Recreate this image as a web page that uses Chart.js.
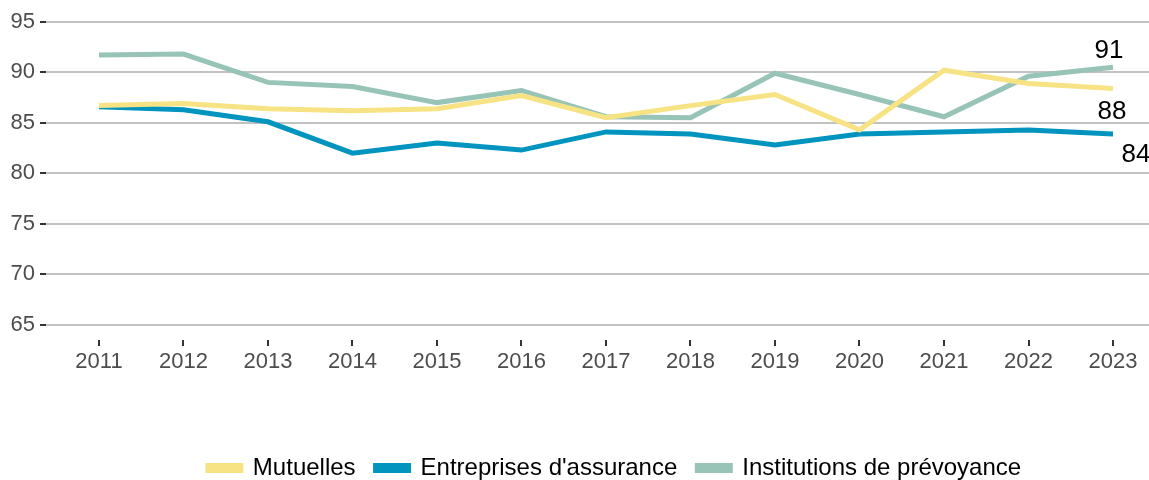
<!DOCTYPE html>
<html>
<head>
<meta charset="utf-8">
<script src="https://cdn.jsdelivr.net/npm/chart.js@4"></script>
<style>
  html, body { margin: 0; padding: 0; background: #fff; }
  #wrap { width: 1149px; height: 480px; }
</style>
</head>
<body>
<div id="wrap"><canvas id="chart-line"></canvas></div>
<script>
var years = [2011, 2012, 2013, 2014, 2015, 2016, 2017, 2018, 2019, 2020, 2021, 2022, 2023];
var mutuelles = [86.7, 86.9, 86.4, 86.2, 86.4, 87.7, 85.5, 86.7, 87.8, 84.3, 90.2, 88.9, 88.4];
var entreprises = [86.6, 86.3, 85.1, 82.0, 83.0, 82.3, 84.1, 83.9, 82.8, 83.9, 84.1, 84.3, 83.9];
var institutions = [91.7, 91.8, 89.0, 88.6, 87.0, 88.2, 85.6, 85.5, 89.9, 87.8, 85.6, 89.6, 90.5];
var yTicks = [65, 70, 75, 80, 85, 90, 95];
var seriesNames = ["Mutuelles", "Entreprises d'assurance", "Institutions de prévoyance"];

var FONT = '"Liberation Sans", Arial, sans-serif';

// where the end labels sit relative to the last point (px)
var endLabelOffsets = [[-1, 23], [23, 21], [-4, -16]];

function toPoints(values) {
  return values.map(function (v, i) { return { x: years[i], y: v }; });
}

var endLabels = {
  id: 'endLabels',
  afterLayout: function (chart) {
    // nudge the legend a bit to the right, like the original
    chart.legend.left += 40;
    chart.legend.right += 40;
  },
  afterDatasetsDraw: function (chart) {
    var ctx = chart.ctx;
    ctx.save();
    ctx.font = '26px ' + FONT;
    ctx.fillStyle = '#000';
    ctx.textAlign = 'center';
    ctx.textBaseline = 'middle';
    chart.data.datasets.forEach(function (ds, i) {
      var meta = chart.getDatasetMeta(i);
      var last = meta.data[meta.data.length - 1];
      var val = ds.data[ds.data.length - 1].y;
      var off = endLabelOffsets[i];
      ctx.fillText(String(Math.round(val)), last.x + off[0], last.y + off[1]);
    });
    ctx.restore();
  }
};

var ctx = document.getElementById("chart-line").getContext("2d");

new Chart(ctx, {
  type: "line",
  data: {
    datasets: [{
      label: seriesNames[0],
      data: toPoints(mutuelles),
      borderColor: "#F7E384",
      backgroundColor: "#F7E384",
      borderWidth: 5,
      pointRadius: 0,
      tension: 0
    }, {
      label: seriesNames[1],
      data: toPoints(entreprises),
      borderColor: "#0094BE",
      backgroundColor: "#0094BE",
      borderWidth: 5,
      pointRadius: 0,
      tension: 0
    }, {
      label: seriesNames[2],
      data: toPoints(institutions),
      borderColor: "#98C4B8",
      backgroundColor: "#98C4B8",
      borderWidth: 5,
      pointRadius: 0,
      tension: 0
    }]
  },
  options: {
    responsive: true,
    maintainAspectRatio: false,
    animation: false,
    layout: { padding: { left: 0, right: 0, top: 7, bottom: -10 } },
    plugins: {
      legend: {
        position: 'bottom',
        labels: {
          boxWidth: 33,
          boxHeight: 5,
          padding: 20,
          color: '#000',
          font: { size: 24, family: FONT }
        }
      },
      tooltip: { enabled: false }
    },
    scales: {
      x: {
        type: 'linear',
        min: 2010.373,
        max: 2023.426,
        afterBuildTicks: function (scale) {
          scale.ticks = years.map(function (y) { return { value: y }; });
        },
        afterFit: function (scale) { scale.height = 96; },
        grid: {
          drawOnChartArea: false,
          drawTicks: true,
          tickLength: 6,
          tickColor: '#333',
          lineWidth: 2
        },
        border: { display: false },
        ticks: {
          padding: 3,
          color: '#4D4D4D',
          maxRotation: 0,
          autoSkip: false,
          font: { size: 22, family: FONT },
          callback: function (v) { return String(v); }
        }
      },
      y: {
        min: 63.51,
        max: 95.35,
        afterBuildTicks: function (scale) {
          scale.ticks = yTicks.map(function (v) { return { value: v }; });
        },
        afterFit: function (scale) { scale.width = 46; },
        grid: {
          color: '#C2C2C2',
          lineWidth: 2,
          tickColor: '#333',
          tickLength: 6
        },
        border: { display: false },
        ticks: {
          padding: 5,
          color: '#4D4D4D',
          font: { size: 22, family: FONT }
        }
      }
    }
  },
  plugins: [endLabels]
});
</script>
</body>
</html>
